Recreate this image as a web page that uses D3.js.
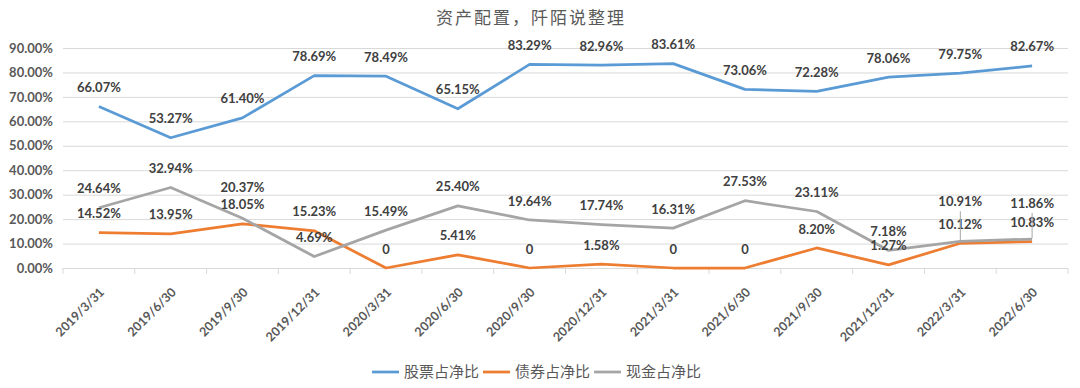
<!DOCTYPE html>
<html>
<head>
<meta charset="utf-8">
<script src="https://cdn.jsdelivr.net/npm/d3@7"></script>
<style>
  body { margin: 0; background: #fff; }
  #chart text { font-family: Lato, "Noto Sans", sans-serif; }
  #chart .cjk { font-family: "Noto Sans CJK SC", sans-serif; }
</style>
</head>
<body>
<div id="chart"></div>
<script>
// 1: DATA
const dates = ["2019/3/31", "2019/6/30", "2019/9/30", "2019/12/31", "2020/3/31", "2020/6/30", "2020/9/30",
  "2020/12/31", "2021/3/31", "2021/6/30", "2021/9/30", "2021/12/31", "2022/3/31", "2022/6/30"];
const stockPct = [66.07, 53.27, 61.40, 78.69, 78.49, 65.15, 83.29, 82.96, 83.61, 73.06, 72.28, 78.06, 79.75, 82.67];
const bondPct = [14.52, 13.95, 18.05, 15.23, 0, 5.41, 0, 1.58, 0, 0, 8.20, 1.27, 10.12, 10.83];
const cashPct = [24.64, 32.94, 20.37, 4.69, 15.49, 25.40, 19.64, 17.74, 16.31, 27.53, 23.11, 7.18, 10.91, 11.86];
const seriesNames = ["股票占净比", "债券占净比", "现金占净比"];
const yTicks = [0, 10, 20, 30, 40, 50, 60, 70, 80, 90];
const title = "资产配置，阡陌说整理";

const colors = ["#5b9bd5", "#ed7d31", "#a5a5a5"];

// 2: SVG SETUP
const margin = { top: 48, right: 12, bottom: 120, left: 63 };
const width = 1080 - margin.left - margin.right;
const height = 388 - margin.top - margin.bottom;

const root = d3.select("#chart").append("svg")
    .attr("width", 1080)
    .attr("height", 388);

const svg = root.append("g")
    .attr("transform", `translate(${margin.left},${margin.top})`);

// 3: SCALES
const x = d3.scaleBand().domain(dates).range([0, width]);
const y = d3.scaleLinear().domain([0, 90]).range([height, 0]);
const cx = d => x(d) + x.bandwidth() / 2;

// 4: GRID + AXES
const grid = svg.append("g")
    .call(d3.axisLeft(y).tickValues(yTicks).tickSize(-width).tickPadding(10)
        .tickFormat(d => d.toFixed(2) + "%"));
grid.select(".domain").remove();
grid.selectAll("line").attr("stroke", "#d9d9d9");
grid.selectAll("text")
    .attr("fill", "#595959")
    .style("font-size", "13px")
    .style("font-weight", "bold");

// category boundary ticks
svg.append("g").selectAll("line")
    .data(d3.range(dates.length + 1))
    .join("line")
    .attr("x1", i => i * x.step())
    .attr("x2", i => i * x.step())
    .attr("y1", height)
    .attr("y2", height + 6)
    .attr("stroke", "#d9d9d9");

// rotated date labels
svg.append("g").selectAll("text")
    .data(dates)
    .join("text")
    .attr("transform", d => `translate(${cx(d) + 3},${height + 22}) rotate(-45)`)
    .attr("text-anchor", "end")
    .attr("dy", "0.35em")
    .attr("fill", "#595959")
    .style("font-size", "12.5px")
    .style("font-weight", "bold")
    .text(d => d);

// 5: LINES
const allSeries = [stockPct, bondPct, cashPct];
const line = d3.line()
    .x((d, i) => cx(dates[i]))
    .y(d => y(d));

allSeries.forEach((vals, k) => {
    svg.append("path")
        .datum(vals)
        .attr("fill", "none")
        .attr("stroke", colors[k])
        .attr("stroke-width", 2.75)
        .attr("stroke-linejoin", "round")
        .attr("d", line);
});

// 6: DATA LABELS
// some cash labels were dragged up in the original (two of them with leader lines)
const lifted = { "2-2": 31, "2-12": 40, "2-13": 36 };
const leaders = ["2-12", "2-13"];
const fmt = v => v === 0 ? "0" : v.toFixed(2) + "%";

allSeries.forEach((vals, k) => {
    vals.forEach((v, i) => {
        const key = `${k}-${i}`;
        const px = cx(dates[i]);
        const py = y(v);
        const lift = lifted[key] || 19;
        if (leaders.includes(key)) {
            svg.append("line")
                .attr("x1", px).attr("x2", px)
                .attr("y1", py - lift + 10).attr("y2", py - 1)
                .attr("stroke", "#a6a6a6")
                .attr("stroke-width", 1);
        }
        svg.append("text")
            .attr("x", px)
            .attr("y", py - lift)
            .attr("dy", "0.35em")
            .attr("text-anchor", "middle")
            .attr("fill", "#404040")
            .style("font-size", "13px")
            .style("font-weight", "bold")
            .text(fmt(v));
    });
});

// 7: TITLE
root.append("text")
    .attr("class", "cjk")
    .attr("x", 531)
    .attr("y", 24)
    .attr("text-anchor", "middle")
    .attr("fill", "#595959")
    .style("font-size", "17px")
    .style("letter-spacing", "2px")
    .text(title);

// 8: LEGEND
const legend = root.append("g").attr("transform", "translate(372,372)");
let lx = 0;
seriesNames.forEach((name, k) => {
    legend.append("line")
        .attr("x1", lx).attr("x2", lx + 27)
        .attr("y1", 0).attr("y2", 0)
        .attr("stroke", colors[k])
        .attr("stroke-width", 2.75);
    const t = legend.append("text")
        .attr("class", "cjk")
        .attr("x", lx + 32)
        .attr("dy", "0.35em")
        .attr("fill", "#595959")
        .style("font-size", "15px")
        .text(name);
    lx += 32 + t.node().getComputedTextLength() + 4;
});
</script>
</body>
</html>
